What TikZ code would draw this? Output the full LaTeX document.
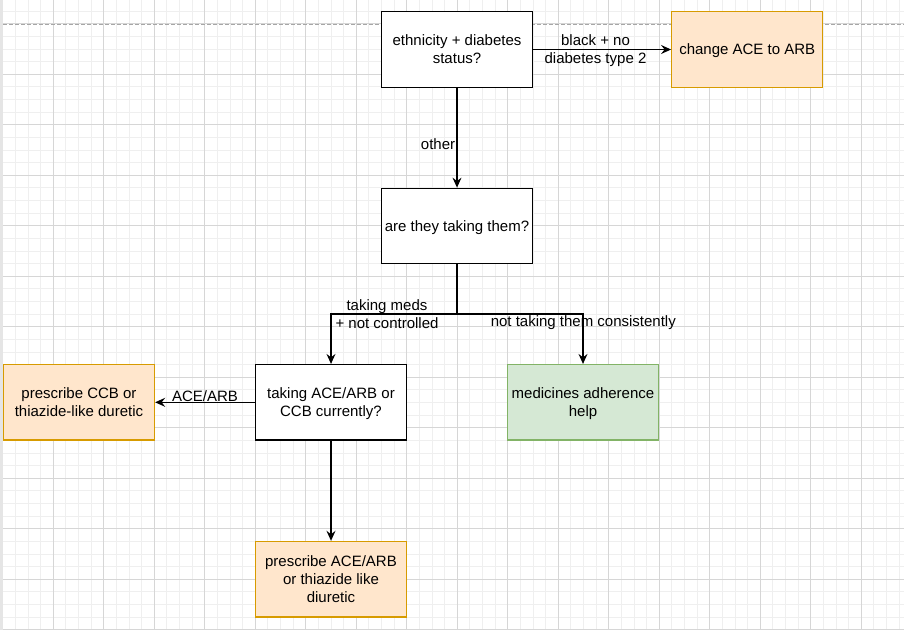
\documentclass[tikz,border=0pt]{standalone}
\usepackage{fontspec}
\setmainfont{Liberation Sans}
\usetikzlibrary{arrows.meta}
\definecolor{orfill}{HTML}{FFE6CC}
\definecolor{ordraw}{HTML}{D79B00}
\definecolor{grfill}{HTML}{D5E8D4}
\definecolor{grdraw}{HTML}{82B366}
\definecolor{minorc}{HTML}{EFEFEF}
\definecolor{majorc}{HTML}{D6D6D6}
\newcommand\sx{\vrule height 14.3pt depth 3.4pt width 0pt}
\tikzset{
  box/.style={draw=black, fill=white, line width=1.3pt, minimum width=151pt, minimum height=75.5pt, inner sep=0pt, align=center, font=\fontsize{15}{18}\selectfont},
  obox/.style={box, draw=ordraw, fill=orfill},
  gbox/.style={box, draw=grdraw, fill=grfill},
  arr/.style={draw=black, line width=1.3pt, -{Stealth[length=10pt,width=9pt,inset=3.5pt]}},
  lbl/.style={inner sep=0pt, align=center, font=\fontsize{15}{18}\selectfont},
  minorl/.style={draw=minorc, line width=1pt},
  majorl/.style={draw=majorc, line width=1pt}
}
\begin{document}
\begin{tikzpicture}[x=1pt,y=-1pt]
\useasboundingbox (0,0) rectangle (904,630);
\fill[white] (0,0) rectangle (904,630);
\begin{scope}
\clip (0,0) rectangle (904,630);
\foreach \i in {0,...,72} \draw[minorl] ({2.8+\i*12.625},0) -- ++(0,630);
\foreach \i in {-2,...,49} \draw[minorl] (0,{23.8+\i*12.625}) -- ++(904,0);
\foreach \i in {0,...,17} \draw[majorl] ({2.8+\i*50.5},0) -- ++(0,630);
\foreach \i in {0,...,12} \draw[majorl] (0,{23.8+\i*50.5}) -- ++(904,0);
\fill[gray!20] (0,0) rectangle (2.6,630);
\draw[draw=gray!70, line width=1pt, dash pattern=on 4pt off 2pt] (3,24.3) -- (904,24.3);
\end{scope}

\node[box]  (b1) at (457,49.5) {\sx ethnicity + diabetes\\\sx status?};
\node[obox] (b2) at (747.2,49.5) {\sx change ACE to ARB};
\node[box]  (b3) at (457,226) {\sx are they taking them?};
\node[box]  (b4) at (331,402.3) {\sx taking ACE/ARB or\\\sx CCB currently?};
\node[gbox] (b5) at (583,402.3) {\sx medicines adherence\\\sx help};
\node[obox] (b6) at (79,402.3) {\sx prescribe CCB or\\\sx thiazide-like duretic};
\node[obox] (b7) at (331,579.2) {\sx prescribe ACE/ARB\\\sx or thiazide like\\\sx diuretic};

\coordinate (j) at (457,314);

\draw[arr] (b1) -- (b2);
\draw[arr] (b1) -- (b3);
\draw[arr] (b3.south) -- (j) -| (b4.north);
\draw[arr] (j) -| (b5.north);
\draw[arr] (b4) -- (b6);
\draw[arr] (b4) -- (b7);

\node[lbl] (l1) at (595.5,49.5) {\sx black + no\\\sx diabetes type 2};
\node[lbl] (l2) at (438,144) {\sx other};
\node[lbl] (l3) at (387,314) {\sx taking meds\\\sx + not controlled};
\node[lbl] (l4) at (583.3,321) {\sx not taking them consistently};
\node[lbl] (l5) at (205,396) {\sx ACE/ARB};
\end{tikzpicture}
\end{document}
